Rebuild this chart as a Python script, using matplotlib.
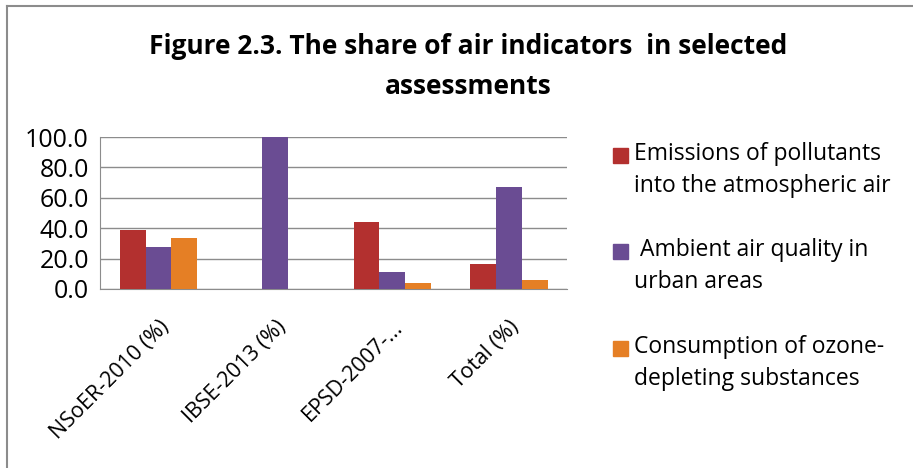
import matplotlib.pyplot as plt
import numpy as np
from matplotlib.lines import Line2D
from matplotlib.patches import Rectangle

plt.rcParams['font.family'] = ['Open Sans', 'DejaVu Sans']

categories = ['NSoER-2010 (%)', 'IBSE-2013 (%)', 'EPSD-2007-...', 'Total (%)']
emissions = [38.9, 0.0, 44.4, 16.3]
ambient = [27.8, 100.0, 11.1, 67.2]
ozone = [33.3, 0.0, 3.7, 6.0]
series_names = ['Emissions of pollutants\ninto the atmospheric air',
                ' Ambient air quality in\nurban areas',
                'Consumption of ozone-\ndepleting substances']
colors = ['#B3302F', '#6A4C93', '#E57F25']

W, H = 913, 468
fig = plt.figure(figsize=(W / 100, H / 100), dpi=100)
ax = fig.add_axes([0.1095, 0.3825, 0.512, 0.3245])

x = np.arange(len(categories))
w = 0.22
for i, (vals, c) in enumerate(zip([emissions, ambient, ozone], colors)):
    ax.bar(x + (i - 1) * w, vals, width=w, color=c, zorder=3)

ax.set_xlim(-0.5, len(categories) - 0.5)
ax.set_ylim(0, 100)
ax.set_yticks(np.arange(0, 101, 20))
ax.set_yticklabels(['%.1f' % v for v in np.arange(0, 101, 20)], fontsize=18)
ax.set_xticks(x)
ax.set_xticklabels(categories, rotation=45, ha='right', rotation_mode='anchor', fontsize=15.5)
ax.tick_params(axis='y', length=0, pad=8)
ax.tick_params(axis='x', length=0, pad=20)
ax.grid(axis='y', color='#8c8c8c', linewidth=1, zorder=0)
for s in ['top', 'right']:
    ax.spines[s].set_visible(False)
for s in ['left', 'bottom']:
    ax.spines[s].set_color('#8c8c8c')

fig.text(0.513, 1 - 47 / H, 'Figure 2.3. The share of air indicators  in selected',
         ha='center', va='center', fontsize=19, fontweight='bold')
fig.text(0.513, 1 - 87 / H, 'assessments', ha='center', va='center', fontsize=19, fontweight='bold')

# legend: marker beside the first line of each two-line label
for i, (name, c) in enumerate(zip(series_names, colors)):
    yc = 155 + i * 96.5
    fig.add_artist(Rectangle((613 / W, 1 - (yc + 7.5) / H), 15 / W, 15 / H,
                             color=c, transform=fig.transFigure))
    fig.text(634 / W, 1 - (yc - 13) / H, name, ha='left', va='top',
             fontsize=16.5, linespacing=1.42)

# chart frame
fig.add_artist(Line2D([0.0077, 1.0], [1 - 6 / H, 1 - 6 / H], color='#8c8c8c', lw=1.5,
                      transform=fig.transFigure))
fig.add_artist(Line2D([0.0077, 0.0077], [0, 1 - 6 / H], color='#8c8c8c', lw=1.5,
                      transform=fig.transFigure))

plt.savefig('out.png', dpi=100)
